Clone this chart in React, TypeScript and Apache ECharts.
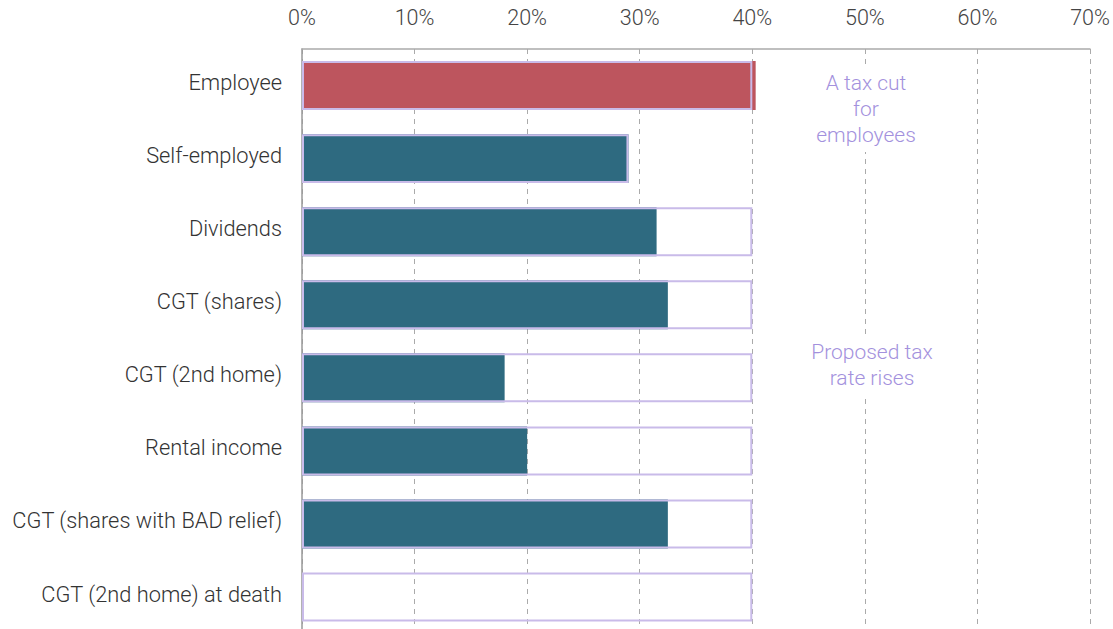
import React, { useEffect, useRef } from "react";
import * as echarts from "echarts";

const categories = [
  "Employee",
  "Self-employed",
  "Dividends",
  "CGT (shares)",
  "CGT (2nd home)",
  "Rental income",
  "CGT (shares with BAD relief)",
  "CGT (2nd home) at death",
];
const currentRates = [40.3, 29, 31.5, 32.5, 18, 20, 32.5, 0];
const proposedRates = [40, 29, 40, 40, 40, 40, 40, 40];
const xTicks = [0, 10, 20, 30, 40, 50, 60, 70];

const FONT = "Roboto";
const FW = 300;

export default function App() {
  const ref = useRef<HTMLDivElement>(null);
  useEffect(() => {
    if (!ref.current) return;
    const chart = echarts.init(ref.current, undefined, { renderer: "svg" });
    chart.setOption({
      animation: false,
      textStyle: { fontFamily: FONT },
      grid: { left: 302, right: 23, top: 49, bottom: 6.4, containLabel: false },
      xAxis: {
        type: "value",
        position: "top",
        min: xTicks[0],
        max: xTicks[xTicks.length - 1],
        interval: 10,
        axisLine: { show: true, lineStyle: { color: "#aaaaaa", width: 1.5 } },
        axisTick: { show: false },
        axisLabel: {
          formatter: "{value}%",
          color: "#444444",
          fontSize: 21.5,
          fontWeight: FW,
          fontFamily: FONT,
          margin: 21,
        },
        splitLine: { show: true, lineStyle: { color: "#aaaaaa", type: [5, 5], width: 1 } },
      },
      yAxis: {
        type: "category",
        data: categories,
        inverse: true,
        axisLine: { show: true, lineStyle: { color: "#999999", width: 1.5 } },
        axisTick: { show: false },
        axisLabel: {
          color: "#333333",
          fontSize: 21.8,
          fontWeight: FW,
          fontFamily: FONT,
          margin: 20,
          verticalAlign: "bottom",
          lineHeight: 6,
        },
        splitLine: { show: false },
      },
      series: [
        {
          type: "bar",
          name: "Current",
          data: currentRates.map((v, i) => ({
            value: v,
            itemStyle: { color: i === 0 ? "#bd555e" : "#2e6a80" },
          })),
          barCategoryGap: "33%",
          barGap: "-100%",
          z: 2,
        },
        {
          type: "bar",
          name: "Proposed",
          data: proposedRates,
          barGap: "-100%",
          itemStyle: { color: "transparent", borderColor: "#c9bbe9", borderWidth: 2 },
          z: 3,
        },
      ],
      graphic: [
        {
          type: "text",
          x: 866,
          y: 66,
          z: 10,
          style: {
            text: "A tax cut\nfor\nemployees",
            fill: "#a391dd",
            font: `${FW} 21px ${FONT}`,
            lineHeight: 26,
            textAlign: "center",
            align: "center",
            backgroundColor: "#ffffff",
            padding: [4, 6, 4, 6],
          },
        },
        {
          type: "text",
          x: 872,
          y: 335,
          z: 10,
          style: {
            text: "Proposed tax\nrate rises",
            fill: "#a391dd",
            font: `${FW} 21px ${FONT}`,
            lineHeight: 26,
            textAlign: "center",
            align: "center",
            backgroundColor: "#ffffff",
            padding: [4, 6, 4, 6],
          },
        },
      ],
    });
    return () => chart.dispose();
  }, []);
  return (
    <div
      ref={ref}
      style={{ position: "fixed", left: 0, top: 0, width: 1113, height: 640, background: "#fff" }}
    />
  );
}
